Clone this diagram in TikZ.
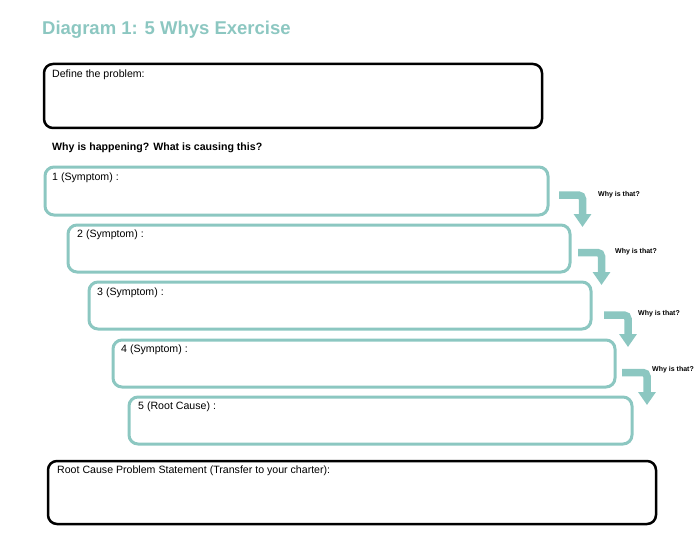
\documentclass[tikz,border=0pt]{standalone}
\usepackage{fontspec}
\setmainfont{Liberation Sans}
\usetikzlibrary{arrows.meta,calc}
\definecolor{teal1}{HTML}{8CC7C1}
\begin{document}
\begin{tikzpicture}[x=1pt,y=-1pt,
 blackbox/.style={draw=black, line width=2.5pt, rounded corners=9pt, anchor=north west, inner sep=0pt, outer sep=0pt},
 tealbox/.style={draw=teal1, line width=3pt, rounded corners=9pt, anchor=north west, inner sep=0pt, outer sep=0pt},
 lbl/.style={anchor=north west, inner sep=0pt, font=\fontsize{10.6}{12}\selectfont},
 whyarrow/.style={draw=teal1, line width=7.5pt, rounded corners=4pt, -{Triangle[width=17pt,length=13pt]}},
 whytext/.style={anchor=west, inner sep=0pt, font=\bfseries\fontsize{7}{8}\selectfont}
]
\useasboundingbox (0,0) rectangle (700,540);

\node[anchor=west, inner sep=0pt, font=\bfseries\fontsize{18.5}{22}\selectfont, text=teal1] (title) at (42,30) {Diagram 1: 5 Whys Exercise};

\node[blackbox, minimum width=498pt, minimum height=64pt] (def) at (44,64) {};
\node[lbl] (deft) at ($(def.north west)+(8,6)$) {Define the problem:};

\node[anchor=west, inner sep=0pt, font=\bfseries\fontsize{10.6}{12}\selectfont] (why) at (52,148) {Why is happening? What is causing this?};

\node[tealbox, minimum width=503pt, minimum height=48pt] (b1) at (45,167) {};
\node[tealbox, minimum width=502pt, minimum height=47pt] (b2) at (68,225) {};
\node[tealbox, minimum width=502pt, minimum height=47pt] (b3) at (89,282) {};
\node[tealbox, minimum width=502pt, minimum height=47pt] (b4) at (113,340) {};
\node[tealbox, minimum width=503pt, minimum height=47pt] (b5) at (129,397) {};

\node[lbl] (t1) at ($(b1.north west)+(7,5.5)$) {1 (Symptom) :};
\node[lbl] (t2) at ($(b2.north west)+(9,5)$) {2 (Symptom) :};
\node[lbl] (t3) at ($(b3.north west)+(8,5.5)$) {3 (Symptom) :};
\node[lbl] (t4) at ($(b4.north west)+(8,5)$) {4 (Symptom) :};
\node[lbl] (t5) at ($(b5.north west)+(9,5)$) {5 (Root Cause) :};

\node[blackbox, minimum width=608pt, minimum height=63pt] (root) at (48,461) {};
\node[lbl] (roott) at ($(root.north west)+(9,5)$) {Root Cause Problem Statement (Transfer to your charter):};

\coordinate (a1s) at (559,195); \coordinate (a1t) at (582.5,227);
\coordinate (a2s) at (578,252.5); \coordinate (a2t) at (601.5,285);
\coordinate (a3s) at (604,315); \coordinate (a3t) at (628,347);
\coordinate (a4s) at (622,372.5); \coordinate (a4t) at (647,405);
\draw[whyarrow] (a1s) -| (a1t);
\draw[whyarrow] (a2s) -| (a2t);
\draw[whyarrow] (a3s) -| (a3t);
\draw[whyarrow] (a4s) -| (a4t);

\node[whytext] (w1) at (598,195) {Why is that?};
\node[whytext] (w2) at (615,252) {Why is that?};
\node[whytext] (w3) at (638,314) {Why is that?};
\node[whytext] (w4) at (652,370) {Why is that?};
\end{tikzpicture}
\end{document}
